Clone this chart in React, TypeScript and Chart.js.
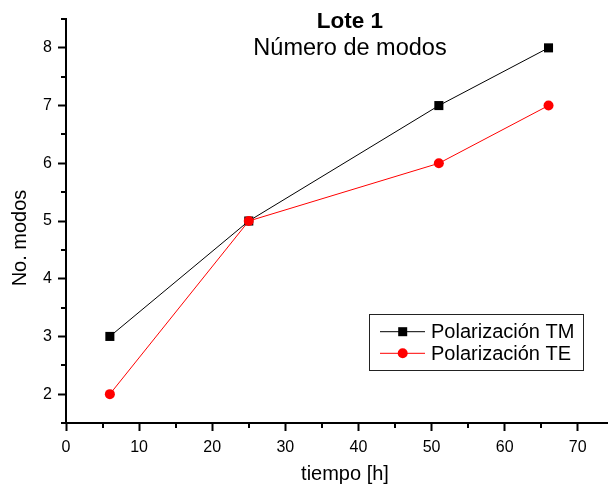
import React, { useEffect, useRef } from "react";
import { Chart, registerables } from "chart.js";

Chart.register(...registerables);

const titleMain = "Lote 1";
const titleSub = "Número de modos";
const xTitle = "tiempo [h]";
const yTitle = "No. modos";

const tiempo = [6, 25, 51, 66];
const modosTM = [3, 5, 7, 8];
const modosTE = [2, 5, 6, 7];
const seriesNames = ["Polarización TM", "Polarización TE"];

const xMajorTicks = [0, 10, 20, 30, 40, 50, 60, 70];
const xMinorTicks = [5, 15, 25, 35, 45, 55, 65];
const yMajorTicks = [2, 3, 4, 5, 6, 7, 8];
const yMinorTicks = [1.5, 2.5, 3.5, 4.5, 5.5, 6.5, 7.5, 8.5];

const FONT = "'Liberation Sans', Arial, sans-serif";

const decorPlugin = {
  id: "decor",
  afterDraw(chart: any) {
    const ctx = chart.ctx;
    const xs = chart.scales.x;
    const ys = chart.scales.y;
    const area = chart.chartArea;
    ctx.save();
    // minor ticks
    ctx.strokeStyle = "#000";
    ctx.lineWidth = 2;
    ctx.beginPath();
    xMinorTicks.forEach((v) => {
      const px = Math.round(xs.getPixelForValue(v));
      ctx.moveTo(px, area.bottom);
      ctx.lineTo(px, area.bottom + 5);
    });
    yMinorTicks.forEach((v) => {
      const py = Math.round(ys.getPixelForValue(v));
      ctx.moveTo(area.left - 5, py);
      ctx.lineTo(area.left, py);
    });
    ctx.stroke();

    // titles
    ctx.fillStyle = "#000";
    ctx.textAlign = "center";
    ctx.textBaseline = "alphabetic";
    ctx.font = `bold 22.5px ${FONT}`;
    ctx.fillText(titleMain, 350, 28);
    ctx.font = `23.5px ${FONT}`;
    ctx.fillText(titleSub, 350, 55);

    // axis titles
    ctx.font = `20px ${FONT}`;
    ctx.fillText(xTitle, 345, 480);
    ctx.save();
    ctx.translate(26, 238);
    ctx.rotate(-Math.PI / 2);
    ctx.fillText(yTitle, 0, 0);
    ctx.restore();

    // legend
    const bx = 369.5, by = 314.5, bw = 214, bh = 56;
    ctx.strokeStyle = "#222";
    ctx.lineWidth = 1;
    ctx.strokeRect(bx, by, bw, bh);
    const rows = [331.7, 353.3];
    chart.data.datasets.forEach((ds: any) => {
      const ry = rows[ds.legendRow];
      ctx.strokeStyle = ds.borderColor;
      ctx.lineWidth = 1;
      ctx.beginPath();
      ctx.moveTo(380, ry);
      ctx.lineTo(425, ry);
      ctx.stroke();
      ctx.fillStyle = ds.backgroundColor;
      if (ds.pointStyle === "rect") {
        ctx.fillRect(402.7 - 4.5, ry - 4.5, 9, 9);
      } else {
        ctx.beginPath();
        ctx.arc(402.7, ry, 5, 0, Math.PI * 2);
        ctx.fill();
      }
      ctx.fillStyle = "#000";
      ctx.textAlign = "left";
      ctx.textBaseline = "middle";
      ctx.font = `20px ${FONT}`;
      ctx.fillText(ds.label, 431, ry + 1);
    });
    ctx.restore();
  },
};

export default function App() {
  const ref = useRef<HTMLCanvasElement>(null);
  useEffect(() => {
    if (!ref.current) return;
    const chart = new Chart(ref.current, {
      type: "line",
      data: {
        datasets: [
          {
            label: seriesNames[1],
            legendRow: 1,
            data: tiempo.map((t, i) => ({ x: t, y: modosTE[i] })),
            borderColor: "#ff0000",
            backgroundColor: "#ff0000",
            borderWidth: 1,
            pointStyle: "circle",
            pointRadius: 5,
            pointBorderWidth: 0,
            order: 0,
          } as any,
          {
            label: seriesNames[0],
            legendRow: 0,
            data: tiempo.map((t, i) => ({ x: t, y: modosTM[i] })),
            borderColor: "#000000",
            backgroundColor: "#000000",
            borderWidth: 1,
            pointStyle: "rect",
            pointRadius: 6.4,
            pointBorderWidth: 0,
            order: 1,
          } as any,
        ],
      },
      options: {
        animation: false,
        responsive: false,
        layout: { autoPadding: false, padding: { top: 19, right: 1, left: 0, bottom: 0 } },
        plugins: {
          legend: { display: false },
          title: { display: false },
          tooltip: { enabled: false },
        },
        scales: {
          x: {
            type: "linear",
            min: 0,
            max: 74,
            afterFit: (s: any) => {
              s.height = 66;
              s.paddingLeft = 0;
              s.paddingRight = 0;
            },
            afterBuildTicks: (s: any) => {
              s.ticks = xMajorTicks.map((v) => ({ value: v }));
            },
            ticks: {
              color: "#000",
              font: { family: FONT, size: 16 },
              padding: 7,
              maxRotation: 0,
              autoSkip: false,
            },
            grid: {
              drawOnChartArea: false,
              drawTicks: true,
              tickLength: 8,
              tickWidth: 2,
              tickColor: "#000",
            },
            border: { display: true, color: "#000", width: 2 },
          },
          y: {
            type: "linear",
            min: 1.5,
            max: 8.5,
            afterFit: (s: any) => {
              s.width = 66;
              s.paddingTop = 0;
              s.paddingBottom = 0;
            },
            afterBuildTicks: (s: any) => {
              s.ticks = yMajorTicks.map((v) => ({ value: v }));
            },
            ticks: {
              color: "#000",
              font: { family: FONT, size: 16 },
              padding: 6,
              autoSkip: false,
            },
            grid: {
              drawOnChartArea: false,
              drawTicks: true,
              tickLength: 8,
              tickWidth: 2,
              tickColor: "#000",
            },
            border: { display: true, color: "#000", width: 2 },
          },
        },
      } as any,
      plugins: [decorPlugin],
    });
    return () => chart.destroy();
  }, []);
  return (
    <div style={{ position: "absolute", left: 0, top: 0, width: 608, height: 489, background: "#fff" }}>
      <canvas ref={ref} width={608} height={489} style={{ display: "block" }} />
    </div>
  );
}
